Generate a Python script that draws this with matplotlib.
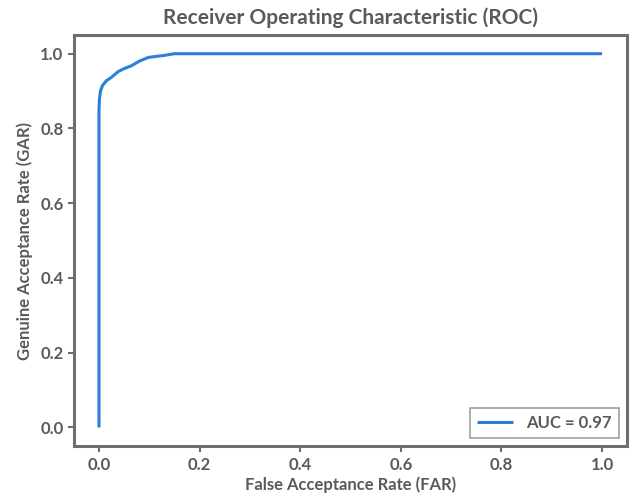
import matplotlib
matplotlib.use("Agg")
import matplotlib.pyplot as plt

far = [0.0, 0.0, 0.0, 0.001, 0.003, 0.007, 0.015, 0.025, 0.038, 0.05, 0.065, 0.08, 0.098, 0.115, 0.128, 0.15, 0.3, 0.6, 1.0]
gar = [0.0, 0.5, 0.85, 0.88, 0.9, 0.915, 0.928, 0.937, 0.952, 0.96, 0.968, 0.98, 0.99, 0.993, 0.995, 1.0, 1.0, 1.0, 1.0]
auc_label = "AUC = 0.97"

plt.rcParams['font.family'] = ['Lato', 'DejaVu Sans']
gray = '#5a5a5a'
spine_gray = '#6e6e6e'

fig = plt.figure(figsize=(6.31, 4.93), dpi=100)
ax = fig.add_axes([0.117, 0.095, 0.877, 0.834])
ax.plot(far, gar, color='#2b7fd9', lw=2.2, label=auc_label, solid_capstyle='butt')
ax.set_xlim(-0.05, 1.05)
ax.set_ylim(-0.05, 1.05)
ax.set_xticks([0.0, 0.2, 0.4, 0.6, 0.8, 1.0])
ax.set_yticks([0.0, 0.2, 0.4, 0.6, 0.8, 1.0])
ax.set_xticklabels([f"{v:.1f}" for v in [0.0, 0.2, 0.4, 0.6, 0.8, 1.0]])
ax.set_yticklabels([f"{v:.1f}" for v in [0.0, 0.2, 0.4, 0.6, 0.8, 1.0]])
for s in ax.spines.values():
    s.set_color(spine_gray)
    s.set_linewidth(2.2)
ax.tick_params(colors=spine_gray, labelcolor=gray, labelsize=12, width=1.5, length=4)
for lab in ax.get_xticklabels() + ax.get_yticklabels():
    lab.set_fontweight('bold')
ax.set_title("Receiver Operating Characteristic (ROC)", fontsize=15, fontweight='bold', color=gray, pad=8)
ax.set_xlabel("False Acceptance Rate (FAR)", fontsize=12, fontweight='bold', color=gray, labelpad=3)
ax.set_ylabel("Genuine Acceptance Rate (GAR)", fontsize=12, fontweight='bold', color=gray, labelpad=5)
leg = ax.legend(loc='lower right', fancybox=False, prop={'weight': 'bold', 'size': 12}, labelcolor=gray,
                borderaxespad=0.5, handlelength=2.2)
leg.get_frame().set_edgecolor('#888888')
leg.get_frame().set_linewidth(1.2)
fig.savefig("out.png", dpi=100)
